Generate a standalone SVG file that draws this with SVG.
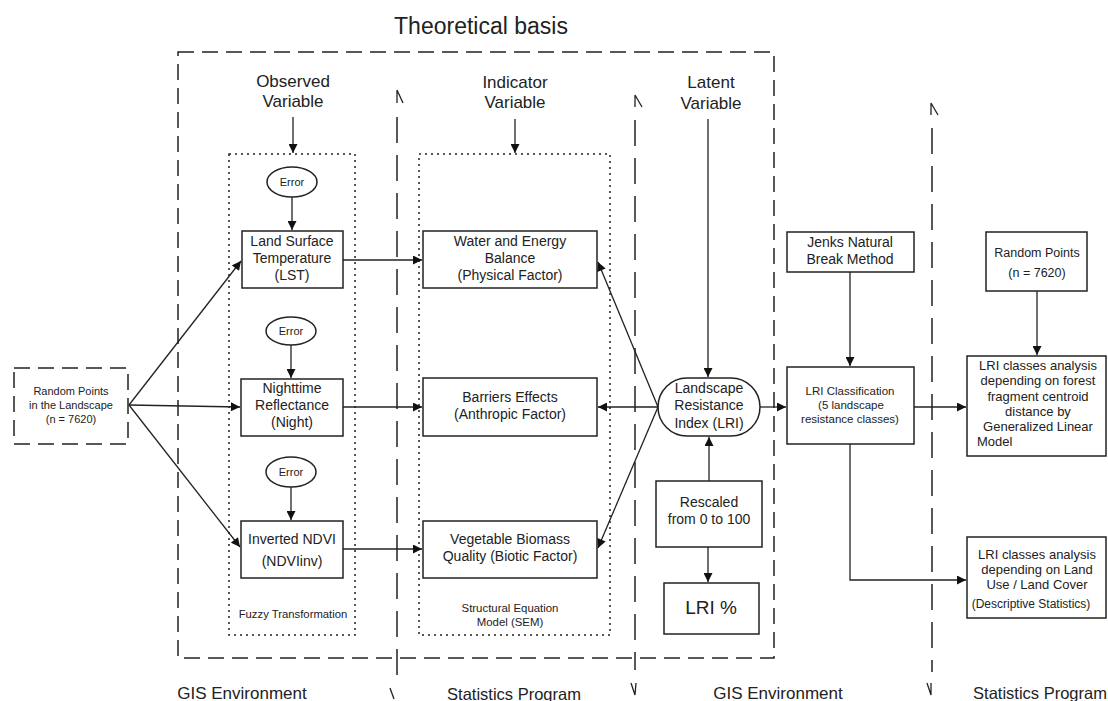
<svg xmlns="http://www.w3.org/2000/svg" width="1108" height="701" viewBox="0 0 1108 701">
<defs>
<style>
.t{font-family:"Liberation Sans",Arial,sans-serif;fill:#222;text-anchor:middle}
.box{fill:#fff;stroke:#222;stroke-width:1.5}
.ln{stroke:#222;stroke-width:1.3;fill:none}
.dot{fill:none;stroke:#222;stroke-width:1.5;stroke-dasharray:2 4}
.dash{fill:none;stroke:#222;stroke-width:1.5;stroke-dasharray:16 8}
.vdash{fill:none;stroke:#222;stroke-width:1.5;stroke-dasharray:26 12}
.gl{fill:none;stroke:#222;stroke-width:1.3}
</style>
<marker id="ar" viewBox="0 0 10 10" refX="10" refY="5" markerWidth="11" markerHeight="9" markerUnits="userSpaceOnUse" orient="auto">
<path d="M0,0 L10,5 L0,10 z" fill="#111"/>
</marker>
</defs>
<rect width="1108" height="701" fill="#fff"/>

<g id="frame">
<text class="t" x="481" y="34" font-size="23" fill="#333">Theoretical basis</text>
<rect class="dash" x="178" y="52" width="596" height="606"/>
<line class="vdash" x1="397" y1="117" x2="397" y2="683"/>
<line class="vdash" x1="635" y1="120" x2="635" y2="670"/>
<line class="vdash" x1="932" y1="128" x2="932" y2="672"/>
<path class="gl" d="M397,90 V103 M397,90 L403,103"/>
<path class="gl" d="M635,95 V107 M635,95 L642,107"/>
<path class="gl" d="M931,103 V115 M931,103 L938,115"/>
<path class="gl" d="M390,688 L394,699"/>
<path class="gl" d="M631,683 L635,695 L636,683"/>
<path class="gl" d="M927,683 L931,695 V683"/>
<text class="t" x="242" y="699" font-size="17">GIS Environment</text>
<text class="t" x="514" y="700" font-size="16.5">Statistics Program</text>
<text class="t" x="778" y="699" font-size="17">GIS Environment</text>
<text class="t" x="1040" y="699" font-size="16.5">Statistics Program</text>
</g>

<g id="headers">
<text class="t" x="293" y="87" font-size="17">Observed</text>
<text class="t" x="293" y="107" font-size="17">Variable</text>
<text class="t" x="515" y="88" font-size="17">Indicator</text>
<text class="t" x="515" y="108" font-size="17">Variable</text>
<text class="t" x="711" y="88" font-size="17">Latent</text>
<text class="t" x="711" y="109" font-size="17">Variable</text>
</g>

<g id="fuzzy">
<rect class="dot" x="229" y="154" width="126" height="481"/>
<text class="t" x="293" y="618" font-size="11.3">Fuzzy Transformation</text>
</g>
<g id="sem">
<rect class="dot" x="419" y="154" width="191" height="481"/>
<text class="t" x="510" y="612" font-size="11.4">Structural Equation</text>
<text class="t" x="510" y="626" font-size="11.4">Model (SEM)</text>
</g>

<g id="error1"><ellipse class="box" cx="292" cy="182" rx="25" ry="15"/><text class="t" x="292" y="186" font-size="11">Error</text></g>
<g id="error2"><ellipse class="box" cx="291" cy="331" rx="25" ry="14"/><text class="t" x="291" y="335" font-size="11">Error</text></g>
<g id="error3"><ellipse class="box" cx="291" cy="472" rx="25" ry="15"/><text class="t" x="291" y="476" font-size="11">Error</text></g>

<g id="lst"><rect class="box" x="242" y="231" width="101" height="57"/>
<text class="t" x="292" y="246" font-size="14">Land Surface</text>
<text class="t" x="292" y="263" font-size="14">Temperature</text>
<text class="t" x="292" y="280" font-size="14">(LST)</text></g>

<g id="night"><rect class="box" x="241" y="379" width="102" height="57"/>
<text class="t" x="292" y="393" font-size="14">Nighttime</text>
<text class="t" x="292" y="410" font-size="14">Reflectance</text>
<text class="t" x="292" y="427" font-size="14">(Night)</text></g>

<g id="ndvi"><rect class="box" x="241" y="521" width="102" height="57"/>
<text class="t" x="292" y="544" font-size="14">Inverted NDVI</text>
<text class="t" x="292" y="566" font-size="14">(NDVIinv)</text></g>

<g id="water"><rect class="box" x="423" y="231" width="174" height="57"/>
<text class="t" x="510" y="246" font-size="14">Water and Energy</text>
<text class="t" x="510" y="263" font-size="14">Balance</text>
<text class="t" x="510" y="280" font-size="14">(Physical Factor)</text></g>

<g id="barriers"><rect class="box" x="423" y="378" width="174" height="58"/>
<text class="t" x="510" y="402" font-size="14">Barriers Effects</text>
<text class="t" x="510" y="419" font-size="14">(Anthropic Factor)</text></g>

<g id="vegetable"><rect class="box" x="423" y="521" width="174" height="57"/>
<text class="t" x="510" y="544" font-size="14">Vegetable Biomass</text>
<text class="t" x="510" y="561" font-size="14">Quality (Biotic Factor)</text></g>

<g id="randlandscape"><rect class="box" x="14" y="368" width="114" height="76" stroke-dasharray="16 8"/>
<text class="t" x="71" y="395" font-size="11">Random Points</text>
<text class="t" x="71" y="409" font-size="11">in the Landscape</text>
<text class="t" x="71" y="423" font-size="11">(n = 7620)</text></g>

<g id="lri"><rect class="box" x="658" y="378" width="102" height="58" rx="29" ry="29"/>
<text class="t" x="709" y="393" font-size="14">Landscape</text>
<text class="t" x="709" y="410" font-size="14">Resistance</text>
<text class="t" x="709" y="428" font-size="14">Index (LRI)</text></g>

<g id="rescaled"><rect class="box" x="656" y="481" width="106" height="66"/>
<text class="t" x="709" y="507" font-size="14">Rescaled</text>
<text class="t" x="709" y="524" font-size="14">from 0 to 100</text></g>

<g id="lripct"><rect class="box" x="664" y="583" width="95" height="51"/>
<text class="t" x="711" y="614" font-size="19">LRI %</text></g>

<g id="jenks"><rect class="box" x="787" y="232" width="127" height="40"/>
<text class="t" x="850" y="247" font-size="14">Jenks Natural</text>
<text class="t" x="850" y="264" font-size="14">Break Method</text></g>

<g id="lriclass"><rect class="box" x="787" y="367" width="127" height="77"/>
<text class="t" x="850" y="395" font-size="11.5">LRI Classification</text>
<text class="t" x="851" y="409" font-size="11.5">(5 landscape</text>
<text class="t" x="850" y="423" font-size="11.5">resistance classes)</text></g>

<g id="randpoints"><rect class="box" x="986" y="232" width="101" height="59"/>
<text class="t" x="1037" y="257" font-size="12.5">Random Points</text>
<text class="t" x="1037" y="277" font-size="12.5">(n = 7620)</text></g>

<g id="analysis1"><rect class="box" x="967" y="356" width="139" height="100"/>
<text class="t" x="1038" y="370" font-size="13">LRI classes analysis</text>
<text class="t" x="1038" y="385" font-size="13">depending on forest</text>
<text class="t" x="1038" y="401" font-size="13">fragment centroid</text>
<text class="t" x="1038" y="416" font-size="13">distance by</text>
<text class="t" x="1038" y="431" font-size="13">Generalized Linear</text>
<text class="t" x="977" y="446" font-size="13" text-anchor="start" style="text-anchor:start">Model</text></g>

<g id="analysis2"><rect class="box" x="967" y="537" width="139" height="81"/>
<text class="t" x="1037" y="559" font-size="13">LRI classes analysis</text>
<text class="t" x="1037" y="574" font-size="13">depending on Land</text>
<text class="t" x="1037" y="589" font-size="13">Use / Land Cover</text>
<text class="t" x="1031" y="608" font-size="12">(Descriptive Statistics)</text></g>

<g id="connectors" class="ln">
<line class="ln" x1="293" y1="117" x2="293" y2="153" marker-end="url(#ar)"/>
<line class="ln" x1="515" y1="119" x2="515" y2="153" marker-end="url(#ar)"/>
<line class="ln" x1="708" y1="119" x2="708" y2="377" marker-end="url(#ar)"/>
<line class="ln" x1="292" y1="197" x2="292" y2="230" marker-end="url(#ar)"/>
<line class="ln" x1="291" y1="345" x2="291" y2="378" marker-end="url(#ar)"/>
<line class="ln" x1="291" y1="487" x2="291" y2="520" marker-end="url(#ar)"/>
<line class="ln" x1="129" y1="405" x2="241" y2="261" marker-end="url(#ar)"/>
<line class="ln" x1="129" y1="405" x2="240" y2="407" marker-end="url(#ar)"/>
<line class="ln" x1="129" y1="405" x2="240" y2="547" marker-end="url(#ar)"/>
<line class="ln" x1="343" y1="260" x2="422" y2="260" marker-end="url(#ar)"/>
<line class="ln" x1="343" y1="407" x2="422" y2="407" marker-end="url(#ar)"/>
<line class="ln" x1="343" y1="549" x2="422" y2="549" marker-end="url(#ar)"/>
<line class="ln" x1="658" y1="407" x2="598" y2="262" marker-end="url(#ar)"/>
<line class="ln" x1="658" y1="407" x2="598" y2="407" marker-end="url(#ar)"/>
<line class="ln" x1="658" y1="407" x2="598" y2="548" marker-end="url(#ar)"/>
<line class="ln" x1="709" y1="481" x2="709" y2="437" marker-end="url(#ar)"/>
<line class="ln" x1="708" y1="547" x2="708" y2="582" marker-end="url(#ar)"/>
<line class="ln" x1="760" y1="407" x2="786" y2="407" marker-end="url(#ar)"/>
<line class="ln" x1="850" y1="272" x2="850" y2="366" marker-end="url(#ar)"/>
<line class="ln" x1="1037" y1="291" x2="1037" y2="355" marker-end="url(#ar)"/>
<line class="ln" x1="914" y1="407" x2="966" y2="407" marker-end="url(#ar)"/>
<path class="ln" d="M850,444 V580 H966" marker-end="url(#ar)"/>
</g>
</svg>
